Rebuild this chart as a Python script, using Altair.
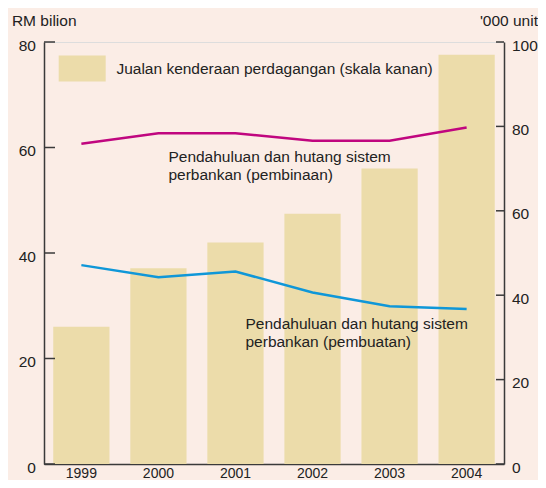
import altair as alt
import pandas as pd

# ---- data ----
years = ["1999", "2000", "2001", "2002", "2003", "2004"]
sales_units = [32.5, 46.4, 52.5, 59.3, 70.0, 97.0]          # '000 unit (right scale)
loans_pembinaan = [60.7, 62.7, 62.7, 61.3, 61.3, 63.8]     # RM bilion (left scale)
loans_pembuatan = [37.7, 35.4, 36.5, 32.5, 29.9, 29.4]     # RM bilion (left scale)
left_ticks = [0, 20, 40, 60, 80]
right_ticks = [0, 20, 40, 60, 80, 100]

bar_name = "Jualan kenderaan perdagangan (skala kanan)"
series_keys = ["pembinaan", "pembuatan"]
series_labels = [
    "Pendahuluan dan hutang sistem\nperbankan (pembinaan)",
    "Pendahuluan dan hutang sistem\nperbankan (pembuatan)",
]
label_years = ["2000", "2001"]
label_values = [57.3, 25.6]

# ---- styles ----
BAR_COLOR = "#ecdcaa"
LINE_COLORS = ["#c0067f", "#0f97d8"]
AXIS_COLOR = "#3a3a3a"
TEXT_COLOR = "#222222"
FONT = "Liberation Sans"
FS = 15.5
W, H = 460, 422

df_bar = pd.DataFrame({"year": years, "units": sales_units, "key": [bar_name] * len(years)})
df_line = pd.DataFrame({
    "year": years * 2,
    "value": loans_pembinaan + loans_pembuatan,
    "series": [series_keys[0]] * len(years) + [series_keys[1]] * len(years),
})
df_lab = pd.DataFrame({"year": label_years, "value": label_values, "label": series_labels})
df_tl = pd.DataFrame({"v": left_ticks})
df_tr = pd.DataFrame({"v": right_ticks})

left_scale = alt.Scale(domain=[0, 80], nice=False, zero=True)
right_scale = alt.Scale(domain=[0, 100], nice=False, zero=True)
x_scale = alt.Scale(domain=years, paddingInner=0.27, paddingOuter=0.12)

x_axis = alt.Axis(title=None, labelAngle=0, ticks=False, tickSize=0, labelPadding=13,
                  labelBaseline="alphabetic",
                  domainColor=AXIS_COLOR, domainWidth=1.5, labelFontSize=14,
                  labelColor=TEXT_COLOR, labelFont=FONT, grid=False)

right_axis = alt.Axis(orient="right", values=right_ticks, title="'000 unit", titleAngle=0,
                      titleAlign="right", titleBaseline="alphabetic", titleX=33.5, titleY=-17,
                      titleFontWeight="normal", titleFontSize=FS, titleColor=TEXT_COLOR, titleFont=FONT,
                      ticks=False, tickSize=0, labelPadding=7.5, labelFontSize=FS,
                      labelColor=TEXT_COLOR, labelFont=FONT, labelBaseline="middle", labelOffset=3,
                      domainColor=AXIS_COLOR, domainWidth=1.5, grid=False)

left_axis = alt.Axis(orient="left", values=left_ticks, title="RM bilion", titleAngle=0,
                     titleAlign="left", titleBaseline="alphabetic", titleX=-32.6, titleY=-17,
                     titleFontWeight="normal", titleFontSize=FS, titleColor=TEXT_COLOR, titleFont=FONT,
                     ticks=False, tickSize=0, labelPadding=8.6, labelFontSize=FS,
                     labelColor=TEXT_COLOR, labelFont=FONT, labelBaseline="middle", labelOffset=3,
                     domainColor=AXIS_COLOR, domainWidth=1.5, grid=False)

x_enc = alt.X("year:N", sort=years, scale=x_scale, axis=x_axis)

bars = alt.Chart(df_bar).mark_bar().encode(
    x=x_enc,
    y=alt.Y("units:Q", scale=right_scale, axis=right_axis),
    color=alt.Color("key:N", scale=alt.Scale(domain=[bar_name], range=[BAR_COLOR]),
                    legend=alt.Legend(orient="none", legendX=14.7, legendY=3, title=None,
                                      symbolType="M-1,-0.553H1V0.553H-1Z", symbolSize=2209,
                                      symbolStrokeWidth=0, symbolOpacity=1,
                                      labelFontSize=FS, labelFont=FONT, labelColor=TEXT_COLOR,
                                      labelOffset=10.7, labelLimit=0, padding=0)),
)

lines = alt.Chart(df_line).mark_line(strokeWidth=2.5).encode(
    x=x_enc,
    y=alt.Y("value:Q", scale=left_scale, axis=left_axis),
    color=alt.Color("series:N", scale=alt.Scale(domain=series_keys, range=LINE_COLORS), legend=None),
)

labels = alt.Chart(df_lab).mark_text(align="left", baseline="alphabetic", lineBreak="\n",
                                     fontSize=FS, font=FONT, color=TEXT_COLOR, lineHeight=18.5,
                                     dx=10).encode(
    x=x_enc,
    y=alt.Y("value:Q", scale=left_scale, axis=None),
    text="label:N",
)

ticks_left = alt.Chart(df_tl).mark_rule(color=AXIS_COLOR, strokeWidth=1.5).encode(
    y=alt.Y("v:Q", scale=left_scale, axis=None),
    x=alt.value(0), x2=alt.value(11),
)
ticks_right = alt.Chart(df_tr).mark_rule(color=AXIS_COLOR, strokeWidth=1.5).encode(
    y=alt.Y("v:Q", scale=right_scale, axis=None),
    x=alt.value(W - 8), x2=alt.value(W),
)

chart = alt.layer(bars, lines, labels, ticks_left, ticks_right).resolve_scale(
    y="independent", color="independent"
).properties(
    width=W, height=H,
    autosize=alt.AutoSizeParams(type="none"),
    padding={"left": 36, "top": 34, "right": 34, "bottom": 16},
    background="#fbede6",
).configure_view(fill="white", stroke=None).configure(font=FONT)

chart.save("out.html", embed_options={"renderer": "svg", "actions": False})
